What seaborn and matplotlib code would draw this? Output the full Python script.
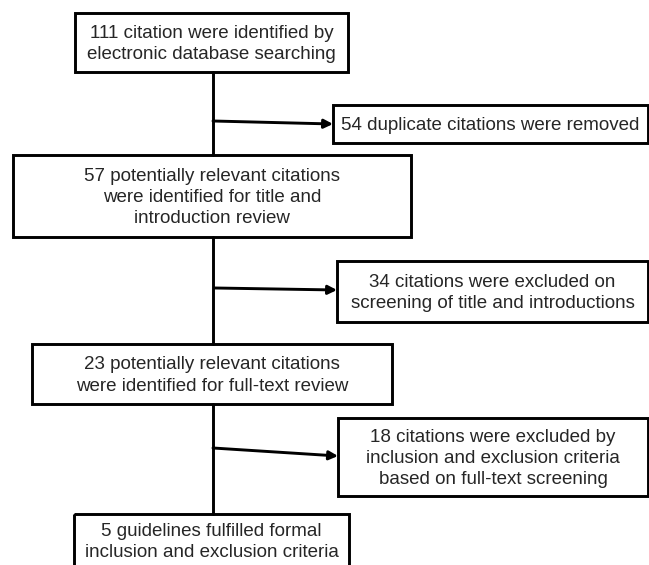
import matplotlib.pyplot as plt
import seaborn as sns
from matplotlib.patches import Rectangle

# flowchart content
main_steps = [
    "111 citation were identified by\nelectronic database searching",
    "57 potentially relevant citations\nwere identified for title and\nintroduction review",
    "23 potentially relevant citations\nwere identified for full-text review",
    "5 guidelines fulfilled formal\ninclusion and exclusion criteria",
]
excluded_steps = [
    "54 duplicate citations were removed",
    "34 citations were excluded on\nscreening of title and introductions",
    "18 citations were excluded by\ninclusion and exclusion criteria\nbased on full-text screening",
]

# layout in pixel units (x0, y0, x1, y1), y going down
main_boxes = [(75, 13, 348, 72), (13, 155, 411, 237), (32, 344, 392, 404), (74, 514, 349, 580)]
side_boxes = [(333, 105, 648, 143), (337, 261, 648, 322), (338, 418, 648, 496)]
arrows = [((213, 121), (333, 124)), ((215, 288), (337, 290)), ((213, 448), (338, 456))]
spine_x = 213

sns.set_style('white')
plt.rcParams['font.family'] = ['Liberation Sans', 'DejaVu Sans']

fig = plt.figure(figsize=(6.49, 5.65), dpi=100)
ax = fig.add_axes([0, 0, 1, 1])
ax.set_xlim(0, 649)
ax.set_ylim(565, 0)
ax.axis('off')

lw = 2.1
text_color = '#262626'


def draw_box(box, label):
    x0, y0, x1, y1 = box
    ax.add_patch(Rectangle((x0, y0), x1 - x0, y1 - y0, fill=False,
                           edgecolor='black', linewidth=lw, zorder=3))
    yc = (y0 + y1) / 2 + 1.5 if y1 <= 565 else 542
    ax.text((x0 + x1) / 2, yc, label, ha='center', va='center',
            fontsize=13.5, color=text_color, linespacing=1.33, zorder=4)


# vertical spine between main boxes
for upper, lower in zip(main_boxes[:-1], main_boxes[1:]):
    ax.plot([spine_x, spine_x], [upper[3], lower[1]], color='black', lw=lw, zorder=2)

for box, label in zip(main_boxes, main_steps):
    draw_box(box, label)
for box, label in zip(side_boxes, excluded_steps):
    draw_box(box, label)

for start, end in arrows:
    ax.annotate('', xy=end, xytext=start,
                arrowprops=dict(arrowstyle='-|>', color='black', lw=lw,
                                mutation_scale=13, shrinkA=0, shrinkB=0))

fig.savefig('out.png', dpi=100)
